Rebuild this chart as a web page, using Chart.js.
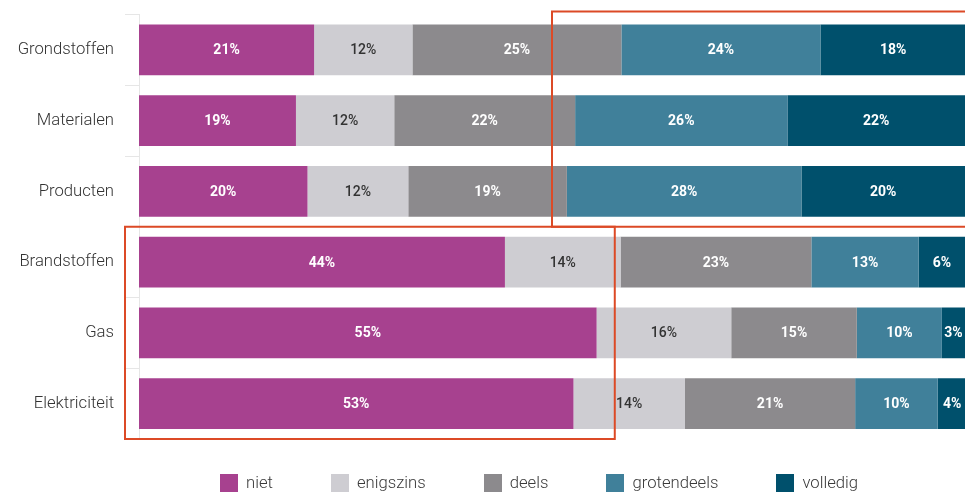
<!DOCTYPE html>
<html>
<head>
<meta charset="utf-8">
<script src="https://cdn.jsdelivr.net/npm/chart.js@4.4.1/dist/chart.umd.min.js"></script>
<style>
  html, body { margin: 0; padding: 0; background: #fff; }
  #wrap { position: relative; width: 965px; height: 492px; overflow: hidden; }
  #wrap canvas { position: absolute; left: 0; top: 0; }
  #legend { position: absolute; left: 220px; top: 474px; display: flex; gap: 58px;
            font: 300 16.7px Roboto, sans-serif; color: #3a3a3a; line-height: 18px; }
  #legend .item { display: flex; align-items: center; }
  #legend .box { width: 18px; height: 18px; margin-right: 8px; }
</style>
</head>
<body>
<div id="wrap">
  <canvas id="chart" width="965" height="492"></canvas>
  <div id="legend"></div>
</div>
<script>
// Categorieën en waarden (percentages per categorie)
const categories = ["Grondstoffen", "Materialen", "Producten", "Brandstoffen", "Gas", "Elektriciteit"];
const seriesNames = ["niet", "enigszins", "deels", "grotendeels", "volledig"];
const niet        = [21.2, 19.0, 20.4, 44.3, 55.4, 52.6];
const enigszins   = [11.9, 11.9, 12.2, 14.0, 16.3, 13.5];
const deels       = [25.3, 21.9, 19.2, 23.1, 15.2, 20.6];
const grotendeels = [24.1, 25.7, 28.4, 13.0, 10.3, 10.0];
const volledig    = [17.6, 21.5, 19.8, 5.6, 2.8, 3.5];

const colors = ["#a7418f", "#cecdd2", "#8c8a8d", "#40809a", "#00506c"];
const labelColors = ["#fff", "#333", "#fff", "#fff", "#fff"];
const seriesValues = [niet, enigszins, deels, grotendeels, volledig];

// Rode kaders rond de twee groepen
const highlightBoxes = {
    id: "highlightBoxes",
    afterDatasetsDraw(chart) {
        const { ctx, chartArea, scales } = chart;
        const x = scales.x, y = scales.y;
        const split = (y.getPixelForValue(2) + y.getPixelForValue(3)) / 2;
        ctx.save();
        ctx.strokeStyle = "#dc4a26";
        ctx.lineWidth = 2;
        ctx.strokeRect(x.getPixelForValue(50), chartArea.top - 3, chart.width, split - chartArea.top + 3);
        ctx.strokeRect(chartArea.left - 14, split, x.getPixelForValue(57.6) - chartArea.left + 14, chartArea.bottom - split);
        ctx.restore();
    }
};

// Percentages in de balken
const valueLabels = {
    id: "valueLabels",
    afterDatasetsDraw(chart) {
        const ctx = chart.ctx;
        ctx.save();
        ctx.textAlign = "center";
        ctx.textBaseline = "middle";
        chart.data.datasets.forEach((ds, i) => {
            const meta = chart.getDatasetMeta(i);
            ctx.fillStyle = labelColors[i];
            ctx.font = (i === 1 ? "500" : "bold") + " 14px Roboto, sans-serif";
            meta.data.forEach((bar, j) => {
                const p = bar.getCenterPoint();
                ctx.fillText(Math.round(ds.data[j]) + "%", p.x, p.y + 1);
            });
        });
        ctx.restore();
    }
};

new Chart(document.getElementById("chart"), {
    type: "bar",
    data: {
        labels: categories,
        datasets: seriesNames.map((name, i) => ({
            label: name,
            data: seriesValues[i],
            backgroundColor: colors[i],
            borderWidth: 0,
            categoryPercentage: 1,
            barPercentage: 0.72
        }))
    },
    options: {
        indexAxis: "y",
        responsive: false,
        animation: false,
        layout: { padding: { top: 14.5, bottom: 53, left: 0, right: 0 } },
        scales: {
            x: { stacked: true, min: 0, max: 100, display: false },
            y: {
                stacked: true,
                afterFit: (scale) => {
                    scale.width = 139;
                    scale.paddingTop = 0;
                    scale.paddingBottom = 0;
                },
                grid: { drawOnChartArea: false, drawTicks: true, tickLength: 14, color: "#e6e6e6", offset: true },
                border: { display: true, color: "#e6e6e6" },
                ticks: { padding: 11, color: "#333", font: { family: "Roboto", size: 16.7, weight: "300" } }
            }
        },
        plugins: {
            legend: { display: false },
            tooltip: { enabled: false }
        }
    },
    plugins: [highlightBoxes, valueLabels]
});

// Legenda
const legend = document.getElementById("legend");
seriesNames.forEach((name, i) => {
    const item = document.createElement("div");
    item.className = "item";
    item.innerHTML = '<span class="box" style="background:' + colors[i] + '"></span>' + name;
    legend.appendChild(item);
});
</script>
</body>
</html>
